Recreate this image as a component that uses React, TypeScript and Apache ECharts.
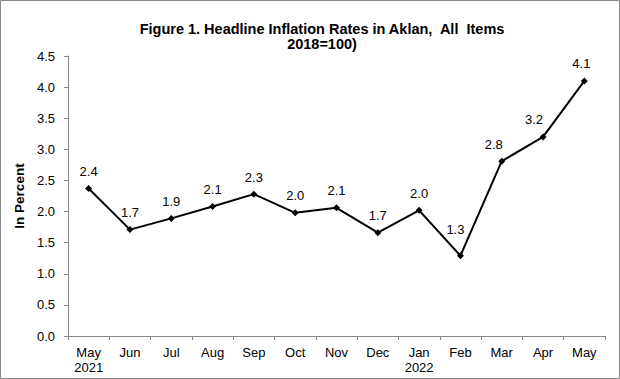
import React, { useEffect, useRef } from "react";
import * as echarts from "echarts";

const categories = ["May\n2021", "Jun", "Jul", "Aug", "Sep", "Oct", "Nov", "Dec", "Jan\n2022", "Feb", "Mar", "Apr", "May"];
const inflation = [2.37, 1.71, 1.89, 2.08, 2.28, 1.98, 2.06, 1.66, 2.02, 1.29, 2.81, 3.2, 4.1];
const yTicks = { min: 0, max: 4.5, interval: 0.5 };
const titleLines = ["Figure 1. Headline Inflation Rates in Aklan,  All  Items", "2018=100)"];

// label nudges (px) so labels clear the line, as in the original
const labelNudge: Record<number, [number, number]> = { 9: [-5, -9], 10: [-8, 0], 11: [-9, 0], 12: [-3, 0] };

export default function App() {
  const ref = useRef<HTMLDivElement>(null);
  useEffect(() => {
    document.body.style.margin = "0";
    const chart = echarts.init(ref.current!, null, { renderer: "svg" });
    const font = "Liberation Sans, Arial, sans-serif";
    const seriesData = inflation.map((v, i) =>
      labelNudge[i] ? { value: v, label: { offset: labelNudge[i] } } : v
    );
    chart.setOption({
      animation: false,
      backgroundColor: "#fff",
      title: {
        text: titleLines.join("\n"),
        left: 317,
        textAlign: "center",
        top: 16,
        textStyle: { fontFamily: font, fontSize: 14.5, fontWeight: "bold", color: "#000", lineHeight: 15 },
      },
      graphic: [
        {
          type: "rect",
          shape: { x: 0.5, y: 0.5, width: 619, height: 378 },
          style: { fill: "none", stroke: "#898989", lineWidth: 1 },
          silent: true,
        },
      ],
      grid: { left: 68, right: 15, top: 56, bottom: 43 },
      xAxis: {
        type: "category",
        data: categories,
        boundaryGap: true,
        axisLine: { lineStyle: { color: "#868686", width: 1 } },
        axisTick: { show: true, length: 4, inside: false, alignWithLabel: false, lineStyle: { color: "#868686" } },
        axisLabel: { fontFamily: font, fontSize: 13, color: "#000", margin: 9, lineHeight: 15, interval: 0 },
        splitLine: { show: false },
      },
      yAxis: {
        type: "value",
        min: yTicks.min,
        max: yTicks.max,
        interval: yTicks.interval,
        name: "In Percent",
        nameLocation: "middle",
        nameGap: 38,
        nameRotate: 90,
        nameTextStyle: { fontFamily: font, fontSize: 13.5, fontWeight: "bold", color: "#000" },
        axisLine: { show: true, lineStyle: { color: "#868686", width: 1 } },
        axisTick: { show: true, length: 4, lineStyle: { color: "#868686" } },
        axisLabel: {
          fontFamily: font,
          fontSize: 13,
          color: "#000",
          margin: 13,
          formatter: (v: number) => v.toFixed(1),
        },
        splitLine: { show: false },
      },
      series: [
        {
          type: "line",
          data: seriesData,
          symbol: "diamond",
          symbolSize: 7,
          lineStyle: { color: "#000", width: 2 },
          itemStyle: { color: "#000" },
          label: {
            show: true,
            position: "top",
            distance: 7,
            fontFamily: font,
            fontSize: 13,
            color: "#000",
            formatter: (p: any) => Number(p.value).toFixed(1),
          },
        },
      ],
    });
    return () => chart.dispose();
  }, []);
  return <div ref={ref} style={{ position: "absolute", left: 0, top: 0, width: 620, height: 379 }} />;
}
